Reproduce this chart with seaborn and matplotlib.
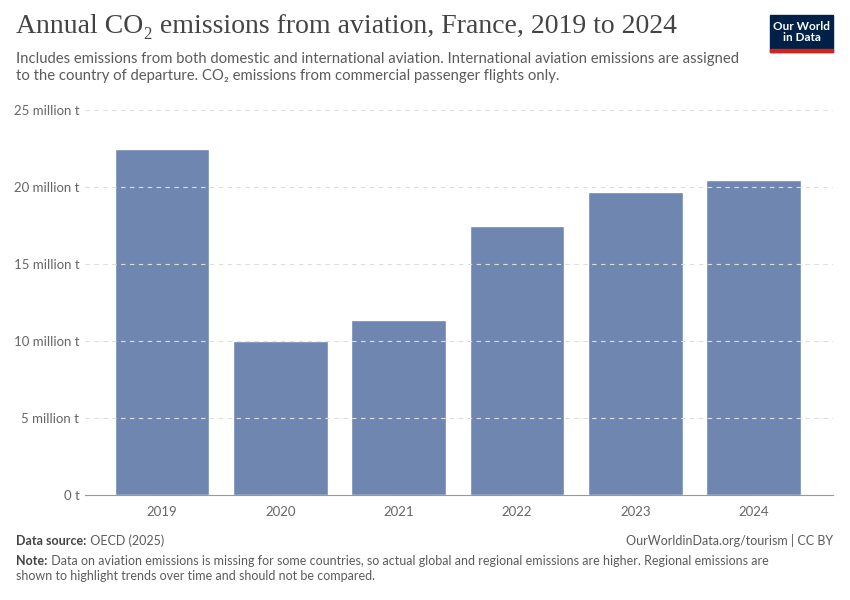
import seaborn as sns
import matplotlib.pyplot as plt
import pandas as pd
from matplotlib.patches import Rectangle

# Datos
years = ["2019", "2020", "2021", "2022", "2023", "2024"]
emissions = [22.47, 9.98, 11.38, 17.47, 19.68, 20.45]  # million t
yticks = [0, 5, 10, 15, 20, 25]
ytick_labels = ["0 t", "5 million t", "10 million t", "15 million t", "20 million t", "25 million t"]

df = pd.DataFrame({"year": years, "co2": emissions})

sns.set_style("white")
plt.rcParams["font.family"] = ["Lato", "DejaVu Sans"]

fig = plt.figure(figsize=(8.5, 6), dpi=100)
ax = fig.add_axes([0.1, 0.175, 0.88, 0.6417])

sns.barplot(data=df, x="year", y="co2", color="#6f87b0", saturation=1, width=0.8, ax=ax, zorder=2)

ax.set_ylim(0, 25)
ax.set_xlim(-0.65, 5.67)
ax.set_yticks(yticks)
ax.set_yticklabels(ytick_labels)
ax.yaxis.grid(True, color="#dddddd", linestyle=(0, (4, 4)), linewidth=0.8, zorder=3)
ax.set_axisbelow(False)
ax.set_xlabel("")
ax.set_ylabel("")
for s in ["top", "right", "left"]:
    ax.spines[s].set_visible(False)
ax.spines["bottom"].set_color("#999999")
ax.tick_params(axis="y", length=0, labelsize=9.5, labelcolor="#666666", pad=4)
ax.tick_params(axis="x", length=5, color="#999999", labelsize=9.5, labelcolor="#666666", pad=3)

# Textos
fig.text(0.019, 0.945, "Annual CO₂ emissions from aviation, France, 2019 to 2024",
         family=["Liberation Serif", "DejaVu Serif"], fontsize=20, color="#444444", va="baseline")
fig.text(0.019, 0.862, "Includes emissions from both domestic and international aviation. International aviation emissions are assigned\n"
         "to the country of departure. CO₂ emissions from commercial passenger flights only.",
         fontsize=10.7, color="#5b5b5b", va="bottom", linespacing=1.3)

src = fig.text(0.019, 0.092, "Data source:", fontsize=9, color="#444444", weight="bold", va="baseline")
ax.annotate(" OECD (2025)", xy=(1, 0), xycoords=src, fontsize=9, color="#5b5b5b", va="bottom",
            annotation_clip=False)
fig.text(0.98, 0.092, "OurWorldinData.org/tourism | CC BY", fontsize=9, color="#5b5b5b", ha="right", va="baseline")

note = fig.text(0.019, 0.058, "Note:", fontsize=9, color="#444444", weight="bold", va="baseline")
ax.annotate(" Data on aviation emissions is missing for some countries, so actual global and regional emissions are higher. Regional emissions are",
            xy=(1, 0), xycoords=note, fontsize=9, color="#5b5b5b", va="bottom", annotation_clip=False)
fig.text(0.019, 0.033, "shown to highlight trends over time and should not be compared.",
         fontsize=9, color="#5b5b5b", va="baseline")

# Logo
fig.patches.append(Rectangle((0.906, 0.913), 0.074, 0.062, transform=fig.transFigure, color="#002147", zorder=5))
fig.patches.append(Rectangle((0.906, 0.913), 0.074, 0.005, transform=fig.transFigure, color="#ce261e", zorder=6))
fig.text(0.943, 0.947, "Our World\nin Data", fontsize=8.5, color="white", ha="center", va="center",
         weight="bold", linespacing=1.0, zorder=7)

fig.savefig("out.png", dpi=100)
